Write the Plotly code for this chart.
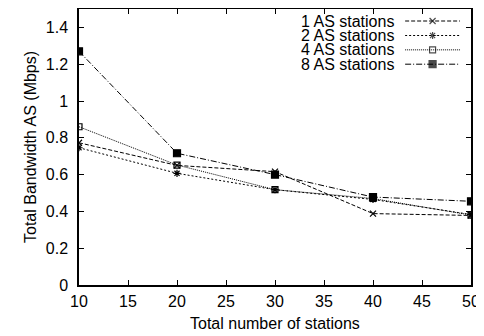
import plotly.graph_objects as go

stations = [10, 20, 30, 40, 50]
as1 = [0.773, 0.650, 0.616, 0.388, 0.378]
as2 = [0.746, 0.607, 0.518, 0.465, 0.383]
as4 = [0.860, 0.652, 0.518, 0.470, 0.380]
as8 = [1.270, 0.716, 0.600, 0.478, 0.455]
names = ["1 AS stations", "2 AS stations", "4 AS stations", "8 AS stations"]
x_ticks = [10, 15, 20, 25, 30, 35, 40, 45, 50]
y_ticks = [0, 0.2, 0.4, 0.6, 0.8, 1, 1.2, 1.4]
y_tick_text = ["0", "0.2", "0.4", "0.6", "0.8", "1", "1.2", "1.4"]

styles = [
    dict(dash="4px,2px", symbol="x-thin-open", size=6, lw=1.0),
    dict(dash="2px,2px", symbol="asterisk-open", size=6, lw=1.0),
    dict(dash="1px,1px", symbol="square-open", size=6, lw=1.0),
    dict(dash="6px,2px,1px,2px", symbol="square", size=7, lw=1.0),
]
series = [as1, as2, as4, as8]

FONT = "Liberation Sans, Arial, Helvetica, sans-serif"
FS = 16
fig = go.Figure()
for vals, st, nm in zip(series, styles, names):
    fig.add_trace(go.Scatter(
        x=stations, y=vals, mode="lines+markers", name=nm, showlegend=False,
        line=dict(color="black", width=st["lw"], dash=st["dash"]),
        marker=dict(symbol=st["symbol"], size=st["size"], color="black",
                    line=dict(color="black", width=1.2)),
    ))

# gnuplot-style legend (text on left, sample on right)
leg_y = [0.9565, 0.904, 0.852, 0.800]
for st, nm, ly in zip(styles, names, leg_y):
    fig.add_trace(go.Scatter(
        x=[0.832, 0.902, 0.972], y=[ly, ly, ly], xaxis="x2", yaxis="y2",
        mode="lines+markers", showlegend=False, hoverinfo="skip",
        line=dict(color="black", width=st["lw"], dash=st["dash"]),
        marker=dict(symbol=st["symbol"], size=[0, st["size"], 0], color="black",
                    line=dict(color="black", width=1.2)),
    ))
    fig.add_annotation(x=0.809, y=ly, xref="paper", yref="paper", text=nm,
                       showarrow=False, xanchor="right", yanchor="middle",
                       font=dict(size=FS, color="black", family=FONT))

fig.add_annotation(x=0.5, y=-0.138, xref="paper", yref="paper",
                   text="Total number of stations", showarrow=False,
                   xanchor="center", yanchor="middle",
                   font=dict(size=FS, color="black", family=FONT))
fig.add_annotation(x=-0.125, y=0.5, xref="paper", yref="paper",
                   text="Total Bandwidth AS (Mbps)", showarrow=False, textangle=-90,
                   xanchor="center", yanchor="middle",
                   font=dict(size=FS, color="black", family=FONT))

axis_common = dict(showline=True, linecolor="black", linewidth=1.5, mirror="ticks",
                   ticks="inside", ticklen=5, tickwidth=1, tickcolor="black",
                   showgrid=False, zeroline=False, automargin=False,
                   tickfont=dict(size=FS, color="black", family=FONT))
# page body has an 8px default margin, so the figure is sized to fill the window
fig.update_layout(
    width=476, height=328,
    margin=dict(l=71, r=13, t=1, b=51),
    paper_bgcolor="white", plot_bgcolor="white",
    font=dict(family=FONT, size=FS, color="black"),
    xaxis=dict(range=[10, 50], tickvals=x_ticks, ticklabelstandoff=1, **axis_common),
    yaxis=dict(range=[0, 1.5], tickvals=y_ticks, ticktext=y_tick_text,
               ticklabelstandoff=6, **axis_common),
    xaxis2=dict(overlaying="x", range=[0, 1], visible=False),
    yaxis2=dict(overlaying="y", range=[0, 1], visible=False),
    showlegend=False,
)
fig.write_html("out.html")
